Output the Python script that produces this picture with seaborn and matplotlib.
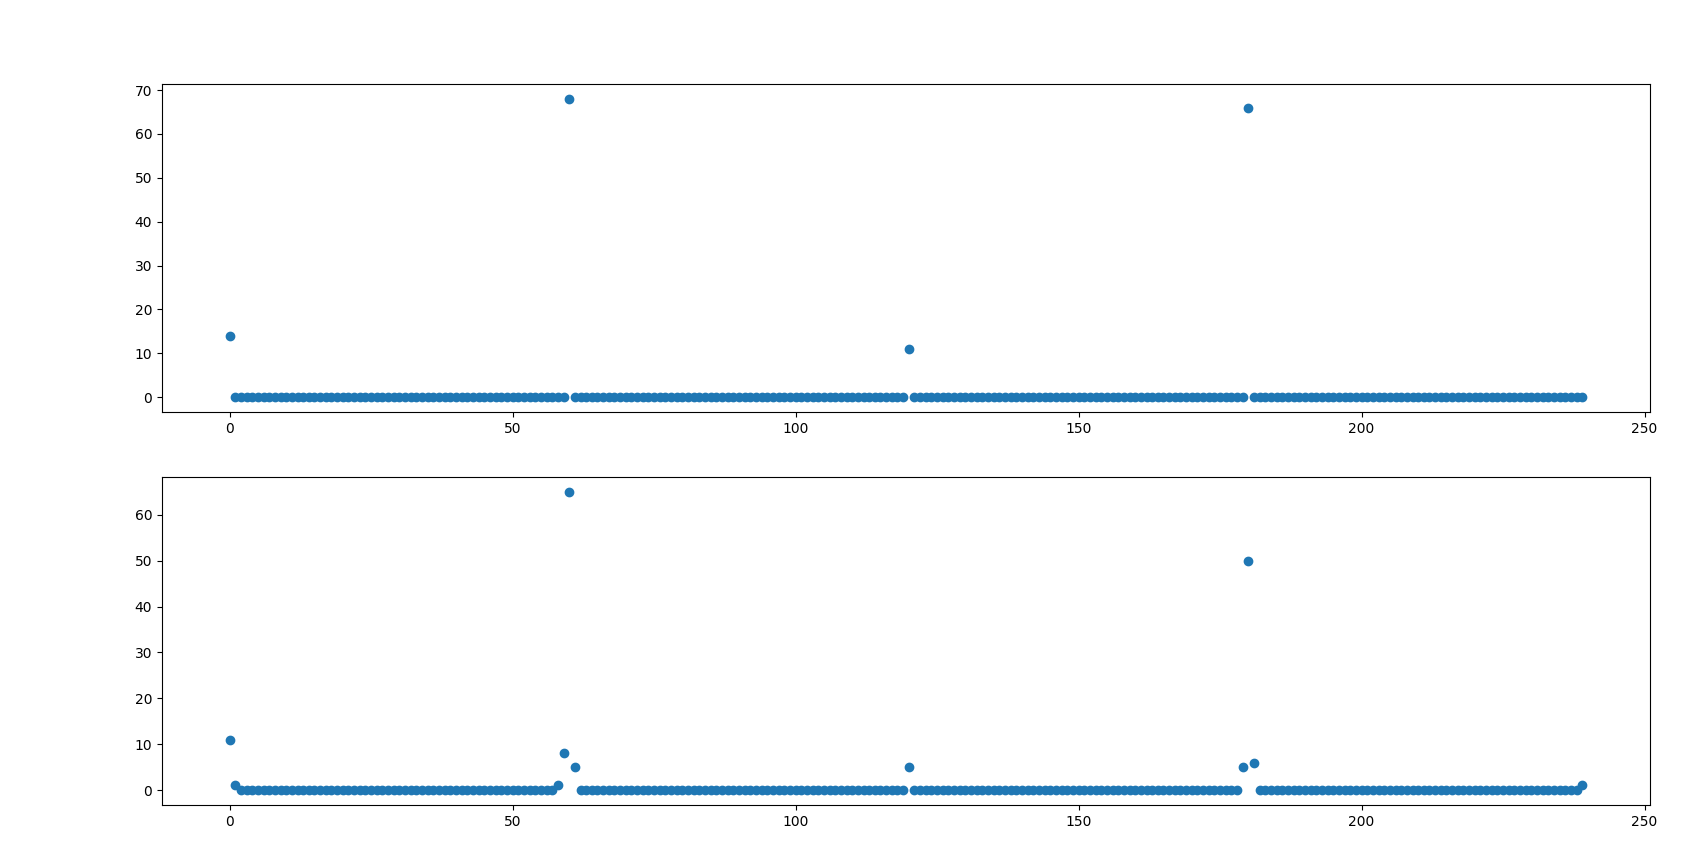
import matplotlib

matplotlib.use("Agg")
import matplotlib.pyplot as plt
import numpy as np
import pandas as pd
import seaborn as sns

""" Two scatter panels of 240 samples, mostly zero with a few spikes """

n_samples = 240
index = np.arange(n_samples)

# Non-zero values, keyed by sample index
top_spikes = {0: 14, 60: 68, 120: 11, 180: 66}
bottom_spikes = {
    0: 11, 1: 1, 58: 1, 59: 8, 60: 65, 61: 5,
    120: 5, 179: 5, 180: 50, 181: 6, 239: 1,
}

top_values = [top_spikes.get(i, 0) for i in index]
bottom_values = [bottom_spikes.get(i, 0) for i in index]

colour = "#1f77b4"


def _plot_panel(ax, values) -> None:
    df = pd.DataFrame({"x": index, "y": values})
    sns.scatterplot(
        data=df, x="x", y="y", ax=ax, s=36,
        color=colour, edgecolor=colour, linewidth=1.0,
    )
    ax.set_xlabel("")
    ax.set_ylabel("")
    ax.set_xticks(range(0, 251, 50))


def plot_data() -> None:
    fig, axes = plt.subplots(2, 1, figsize=(16.94, 8.57), dpi=100)
    fig.subplots_adjust(left=0.0956, right=0.974, top=0.902, bottom=0.0607, hspace=0.198)
    _plot_panel(axes[0], top_values)
    _plot_panel(axes[1], bottom_values)
    fig.savefig("out.png", dpi=100)


if __name__ == "__main__":
    plot_data()
